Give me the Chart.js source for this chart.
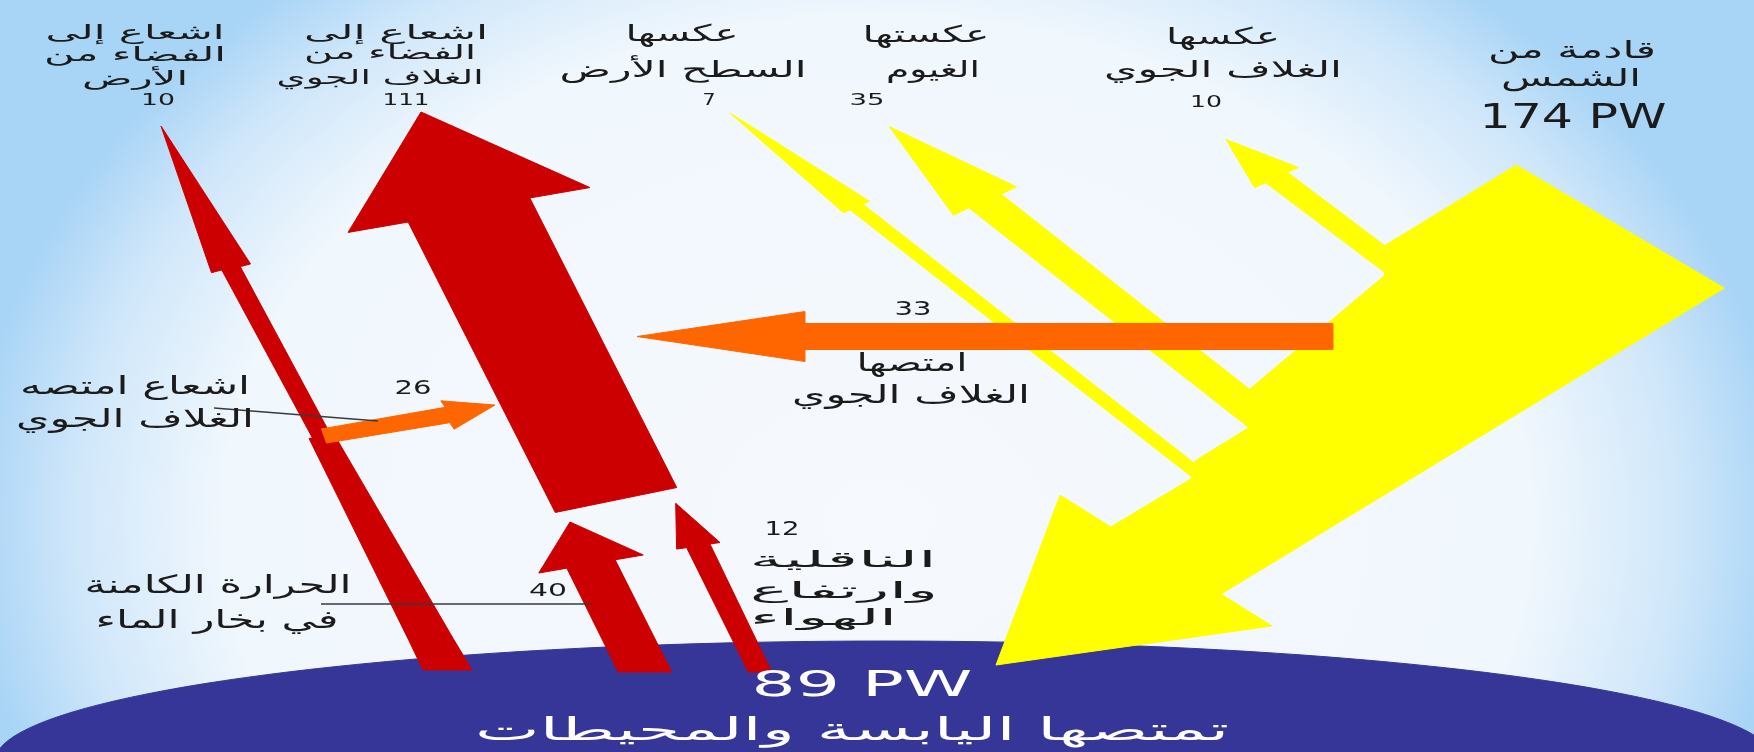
<!DOCTYPE html>
<html lang="ar">
<head>
<meta charset="utf-8">
<script src="https://cdn.jsdelivr.net/npm/chart.js@4.4.1/dist/chart.umd.min.js"></script>
<style>html,body{margin:0;padding:0;background:#fff;overflow:hidden}canvas{display:block}</style>
</head>
<body>
<canvas id="c" width="1754" height="752"></canvas>
<script>
// ---------------- DATA (PW) ----------------
const solarLabels = ['قادمة من', 'الشمس'];
const solarIncoming = [174];
const reflectedLabels = [['عكسها', 'الغلاف الجوي'], ['عكستها', 'الغيوم'], ['عكسها', 'السطح الأرض']];
const reflectedValues = [10, 35, 7];
const atmosAbsorbedLabels = [['امتصها', 'الغلاف الجوي'], ['اشعاع امتصه', 'الغلاف الجوي']];
const atmosAbsorbedValues = [33, 26];
const emittedLabels = [['اشعاع إلى', 'الفضاء من', 'الأرض'], ['اشعاع إلى', 'الفضاء من', 'الغلاف الجوي']];
const emittedValues = [10, 111];
const surfaceUpLabels = [['الحرارة الكامنة', 'في بخار الماء'], ['الناقلية', 'وارتفاع', 'الهواء']];
const surfaceUpValues = [40, 12];
const surfaceAbsorbedLabels = ['تمتصها اليابسة والمحيطات'];
const surfaceAbsorbed = [89];
const unitLabel = 'PW';

// ---------------- LAYOUT (diagram geometry in axis units) ----------------
const COLORS = { yellow: '#ffff00', orange: '#ff6600', red: '#cc0000', earth: '#363699', text: '#1b1b1b', lead: '#3a3a3a' };
const earthShape = { cx: 885, cy: 761, rx: 890, ry: 120 };
// arrow: tail centre, neck centre, tip; prof = [fraction tail->neck, half width left, half width right]
const arrowLayout = {
  solar:      { tail: [1620, 226.5], neck: [1166, 560.5], tip: [996, 665], angT: 30.6, angN: 31.3, angH: 31.7, headW: 249,
                prof: [[0, 120.5, 121], [0.27, 135, 105.7], [0.313, 108.6, 103.3], [0.634, 95.8, 85.2], [0.697, 62.6, 81.6], [0.807, 68.2, 75.4], [0.841, 55.1, 73.5], [1, 64.6, 64.5]] },
  refAtmos:   { tail: [1410, 278], neck: [1276.5, 177.5], tip: [1226, 139.5], angT: -26, angN: -26, angH: -24.4, headW: 48.3, prof: [[0, 12], [1, 12]] },
  refCloud:   { tail: [1283, 435], neck: [985, 201], tip: [889.4, 126.7], angT: -23, angN: -23, angH: -24.2, headW: 69.2, prof: [[0, 17.5], [1, 17.5]] },
  refSurf:    { tail: [1225, 495], neck: [856.5, 207], tip: [730, 113], angT: -24, angN: -24, angH: -24.2, headW: 28.5, prof: [[0, 7], [1, 7]] },
  absAtmos:   { tail: [1333, 336.5], neck: [805, 336.5], tip: [637, 336.5], angT: 90, angN: 90, angH: 90, headW: 50, prof: [[0, 13], [1, 13]] },
  emitSurf:   { tail: [447.5, 670], neck: [231, 268.3], tip: [161, 126], angT: 0, angN: -10.3, angH: -12.6, headW: 40,
                prof: [[0, 24.5], [0.075, 22.5], [0.58, 13], [0.58, 9.5], [1, 9.4]] },
  emitAtmos:  { tail: [616, 500], neck: [469, 210], tip: [421, 112], angT: -11.6, angN: -11.2, angH: -10.5, headW: 246, prof: [[0, 62], [1, 62]] },
  latent:     { tail: [645, 672], neck: [591, 564], tip: [570, 522], angT: 0, angN: -9.8, angH: -9.8, headW: 106, prof: [[0, 26.7], [1, 24.5]] },
  thermals:   { tail: [760, 672], neck: [698.3, 545.8], tip: [675.7, 503.3], angT: 0, angN: -9, angH: -8.6, headW: 43.9, prof: [[0, 11.7], [1, 11.8]] },
  absSurfRad: { tail: [324, 436], neck: [447.5, 415], tip: [495, 405], angT: 70.3, angN: 73, angH: 64.8, headW: 31.3, prof: [[0, 7.5], [1, 8]] }
};
const leaderLayout = [[[214, 408], [378, 421]], [[321, 604], [591, 604]]];

// ---------------- geometry helpers ----------------
const rad = a => a * Math.PI / 180;
function arrowPoints(g) {
  const [tx, ty] = g.tail, [nx, ny] = g.neck, [px, py] = g.tip;
  const L = [], R = [];
  for (const p of g.prof) {
    const f = p[0], hl = p[1], hr = p.length > 2 ? p[2] : p[1];
    const a = rad(g.angT + (g.angN - g.angT) * f), cx = Math.cos(a), cy = Math.sin(a);
    const x = tx + (nx - tx) * f, y = ty + (ny - ty) * f;
    L.push({ x: x - cx * hl, y: y - cy * hl });
    R.push({ x: x + cx * hr, y: y + cy * hr });
  }
  const ah = rad(g.angH), hw = g.headW / 2;
  const pts = [...L,
    { x: nx - Math.cos(ah) * hw, y: ny - Math.sin(ah) * hw },
    { x: px, y: py },
    { x: nx + Math.cos(ah) * hw, y: ny + Math.sin(ah) * hw },
    ...R.reverse()];
  pts.push({ ...pts[0] });
  return pts;
}
function ellipsePoints(e) {
  const pts = [];
  for (let a = 0; a <= 360; a += 2) pts.push({ x: e.cx + e.rx * Math.cos(rad(a)), y: e.cy + e.ry * Math.sin(rad(a)) });
  return pts;
}
function shape(label, pts, color) {
  return { label, data: pts, showLine: true, fill: 'shape', backgroundColor: color, borderColor: color, borderWidth: 1,
           pointRadius: 0, pointHoverRadius: 0, tension: 0 };
}
function lead(label, seg) {
  return { label, data: seg.map(([x, y]) => ({ x, y })), showLine: true, fill: false, borderColor: COLORS.lead, borderWidth: 1.3,
           pointRadius: 0, pointHoverRadius: 0, tension: 0 };
}

const drawList = [
  shape('earth', ellipsePoints(earthShape), COLORS.earth),
  shape('solar ' + solarIncoming[0], arrowPoints(arrowLayout.solar), COLORS.yellow),
  shape('reflected atmosphere ' + reflectedValues[0], arrowPoints(arrowLayout.refAtmos), COLORS.yellow),
  shape('reflected clouds ' + reflectedValues[1], arrowPoints(arrowLayout.refCloud), COLORS.yellow),
  shape('reflected surface ' + reflectedValues[2], arrowPoints(arrowLayout.refSurf), COLORS.yellow),
  shape('absorbed atmosphere ' + atmosAbsorbedValues[0], arrowPoints(arrowLayout.absAtmos), COLORS.orange),
  shape('emitted surface ' + emittedValues[0], arrowPoints(arrowLayout.emitSurf), COLORS.red),
  shape('emitted atmosphere ' + emittedValues[1], arrowPoints(arrowLayout.emitAtmos), COLORS.red),
  shape('latent ' + surfaceUpValues[0], arrowPoints(arrowLayout.latent), COLORS.red),
  shape('thermals ' + surfaceUpValues[1], arrowPoints(arrowLayout.thermals), COLORS.red),
  shape('absorbed surface rad ' + atmosAbsorbedValues[1], arrowPoints(arrowLayout.absSurfRad), COLORS.orange),
  lead('leader 26', leaderLayout[0]),
  lead('leader 40', leaderLayout[1])
];
drawList.forEach((d, i) => { d.order = drawList.length - i; });

// ---------------- text layout ----------------
// each item: text, x, y (middle), font size, fitted width
const textItems = [
  { t: emittedLabels[0][0], x: 135, y: 34, s: 20, w: 179 },
  { t: emittedLabels[0][1], x: 135, y: 56, s: 20, w: 182 },
  { t: emittedLabels[0][2], x: 135, y: 80, s: 20, w: 106 },
  { t: String(emittedValues[0]), x: 158, y: 101, s: 16, w: 34 },
  { t: emittedLabels[1][0], x: 396, y: 34, s: 20, w: 184 },
  { t: emittedLabels[1][1], x: 390, y: 54, s: 20, w: 172 },
  { t: emittedLabels[1][2], x: 380, y: 79, s: 20, w: 207 },
  { t: String(emittedValues[1]), x: 406, y: 101, s: 16, w: 47 },
  { t: reflectedLabels[2][0], x: 682, y: 35, s: 23, w: 113 },
  { t: reflectedLabels[2][1], x: 683, y: 71, s: 23, w: 247 },
  { t: String(reflectedValues[2]), x: 709, y: 101, s: 16, w: 13 },
  { t: reflectedLabels[1][0], x: 926, y: 36, s: 23, w: 127 },
  { t: reflectedLabels[1][1], x: 933, y: 71, s: 23, w: 94 },
  { t: String(reflectedValues[1]), x: 867, y: 101, s: 16, w: 35 },
  { t: reflectedLabels[0][0], x: 1223, y: 38, s: 23, w: 114 },
  { t: reflectedLabels[0][1], x: 1223, y: 71.5, s: 23, w: 238 },
  { t: String(reflectedValues[0]), x: 1206, y: 102.5, s: 16, w: 32 },
  { t: solarLabels[0], x: 1572, y: 52, s: 24, w: 168 },
  { t: solarLabels[1], x: 1571, y: 80, s: 24, w: 140 },
  { t: solarIncoming[0] + ' ' + unitLabel, x: 1573, y: 119, s: 33, w: 187 },
  { t: String(atmosAbsorbedValues[0]), x: 913, y: 310, s: 19, w: 37 },
  { t: atmosAbsorbedLabels[0][0], x: 912, y: 364, s: 25, w: 111 },
  { t: atmosAbsorbedLabels[0][1], x: 911, y: 396.5, s: 25, w: 238 },
  { t: atmosAbsorbedLabels[1][0], x: 135, y: 387, s: 25, w: 230 },
  { t: atmosAbsorbedLabels[1][1], x: 135, y: 420, s: 25, w: 238 },
  { t: String(atmosAbsorbedValues[1]), x: 413, y: 389, s: 19, w: 37 },
  { t: surfaceUpLabels[0][0], x: 218, y: 586, s: 25, w: 267 },
  { t: surfaceUpLabels[0][1], x: 217, y: 621, s: 25, w: 243 },
  { t: String(surfaceUpValues[0]), x: 548, y: 591.5, s: 18, w: 38 },
  { t: String(surfaceUpValues[1]), x: 782, y: 530, s: 19, w: 35 },
  { t: surfaceUpLabels[1][0], x: 843, y: 561, s: 22, w: 187 },
  { t: surfaceUpLabels[1][1], x: 844, y: 592, s: 22, w: 188 },
  { t: surfaceUpLabels[1][2], x: 823.5, y: 619, s: 22, w: 147 },
  { t: surfaceAbsorbed[0] + ' ' + unitLabel, x: 862, y: 687, s: 36, w: 221, c: '#ffffff' },
  { t: surfaceAbsorbedLabels[0], x: 852, y: 732, s: 31, w: 754, c: '#ffffff' }
];

const bgPlugin = {
  id: 'bg',
  beforeDraw(chart) {
    const { ctx, width, height } = chart;
    ctx.save();
    const sx = 1.3, cx = 877, cy = 520;
    ctx.translate(cx, cy);
    ctx.scale(sx, 1);
    const g = ctx.createRadialGradient(0, 0, 0, 0, 0, 700);
    g.addColorStop(0, '#f6f9fe');
    g.addColorStop(0.72, '#f0f7fd');
    g.addColorStop(0.88, '#d0e7fa');
    g.addColorStop(1, '#a8d4f6');
    ctx.fillStyle = g;
    ctx.fillRect(-cx / sx - 5, -cy - 5, width / sx + 10, height + 10);
    ctx.restore();
  }
};
const textPlugin = {
  id: 'texts',
  afterDraw(chart) {
    const { ctx } = chart, xs = chart.scales.x, ys = chart.scales.y;
    for (const it of textItems) {
      ctx.save();
      ctx.font = (it.b ? 'bold ' : '') + it.s + 'px "DejaVu Sans"';
      ctx.direction = /[\u0600-\u06FF]/.test(it.t) ? 'rtl' : 'ltr';
      ctx.textAlign = 'center';
      ctx.textBaseline = 'middle';
      ctx.fillStyle = it.c || COLORS.text;
      const m = ctx.measureText(it.t).width;
      const k = it.w ? it.w / m : 1;
      ctx.translate(xs.getPixelForValue(it.x), ys.getPixelForValue(it.y));
      ctx.scale(k, 1);
      ctx.fillText(it.t, 0, 0);
      ctx.restore();
    }
  }
};

new Chart(document.getElementById('c'), {
  type: 'scatter',
  data: { datasets: drawList },
  options: {
    responsive: false, animation: false, devicePixelRatio: 1, events: [],
    layout: { padding: 0 },
    plugins: { legend: { display: false }, tooltip: { enabled: false }, filler: { propagate: false } },
    scales: {
      x: { type: 'linear', min: 0, max: 1754, display: false },
      y: { type: 'linear', min: 0, max: 752, reverse: true, display: false }
    }
  },
  plugins: [bgPlugin, textPlugin]
});
</script>
</body>
</html>
